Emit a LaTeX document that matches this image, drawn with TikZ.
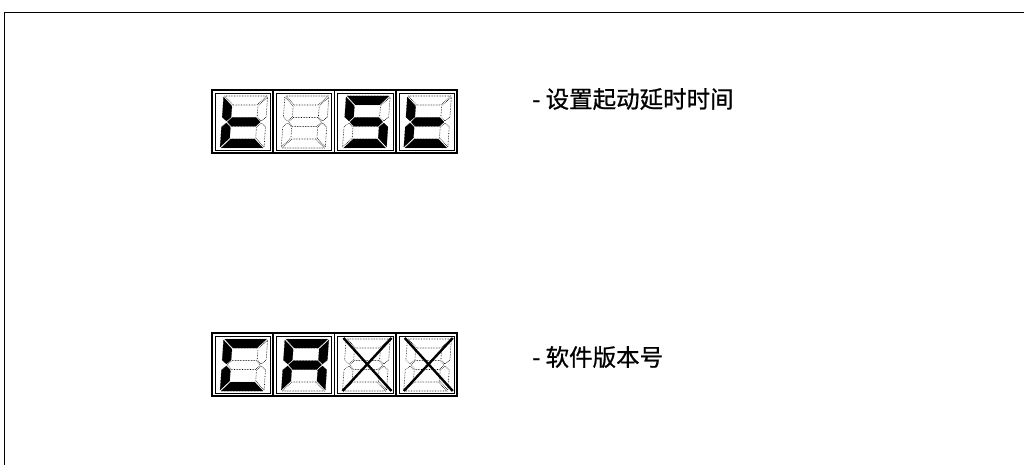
\documentclass[tikz,border=0pt]{standalone}
\usepackage{fontspec}
\newfontfamily\cjk{Noto Sans CJK SC}[FakeBold=0.8]
\tikzset{
  segon/.style={fill=black, draw=black, densely dotted, line width=0.5},
  segoff/.style={draw=black, densely dotted, line width=0.6},
  cellouter/.style={draw=black, line width=1.8},
  cellinner/.style={draw=black, line width=0.5},
  xline/.style={draw=black, line width=2.4},
  label/.style={anchor=west, inner sep=0pt, font=\cjk\fontsize{23.5}{28}\selectfont},
  frame/.style={draw=black, line width=1.3}
}
\newcommand{\SegA}[1]{\path[#1] (1,52) -- (43,52) -- (34,43) -- (10,43) -- cycle;}
\newcommand{\SegB}[1]{\path[#1] (44,51) -- (35,42) -- (35,31) -- (39.5,27) -- (44,31) -- cycle;}
\newcommand{\SegC}[1]{\path[#1] (44,1) -- (35,10) -- (35,21) -- (39.5,25) -- (44,21) -- cycle;}
\newcommand{\SegD}[1]{\path[#1] (1,0) -- (43,0) -- (34,9) -- (10,9) -- cycle;}
\newcommand{\SegE}[1]{\path[#1] (0,1) -- (9,10) -- (9,21) -- (4.5,25) -- (0,21) -- cycle;}
\newcommand{\SegF}[1]{\path[#1] (0,51) -- (9,42) -- (9,31) -- (4.5,27) -- (0,31) -- cycle;}
\newcommand{\SegG}[1]{\path[#1] (5.5,26) -- (10,30.5) -- (34,30.5) -- (38.5,26) -- (34,21.5) -- (10,21.5) -- cycle;}
\newcommand{\sevseg}[7]{\SegA{#1}\SegB{#2}\SegC{#3}\SegD{#4}\SegE{#5}\SegF{#6}\SegG{#7}}
\newcommand{\dispcell}[4]{%
  \begin{scope}[shift={(#1,#2)}]
    \path[cellouter] (0,0) rectangle (61.25,63);
    \path[cellinner] (3,3) rectangle (58.25,60);
    \begin{scope}[shift={(8,58)}, y=1pt, xslant=0.07]
      #3
    \end{scope}
    #4
  \end{scope}}
\newcommand{\crossmark}{\path[xline] (9,5) -- (57,58); \path[xline] (57,5) -- (8,58);}
\begin{document}
\begin{tikzpicture}[x=1pt,y=-1pt]
\useasboundingbox (0,0) rectangle (1024,465);
\path[frame] (4.5,465) -- (4.5,12.5) -- (1024,12.5);
% display 1: t e S t
\dispcell{212}{90}{\sevseg{segoff}{segoff}{segoff}{segon}{segon}{segon}{segon}}{}
\dispcell{273.25}{90}{\sevseg{segoff}{segoff}{segoff}{segoff}{segoff}{segoff}{segoff}}{}
\dispcell{334.5}{90}{\sevseg{segon}{segoff}{segon}{segon}{segoff}{segon}{segon}}{}
\dispcell{395.75}{90}{\sevseg{segoff}{segoff}{segoff}{segon}{segon}{segon}{segon}}{}
% display 2: C A X X
\dispcell{212}{333}{\sevseg{segon}{segoff}{segoff}{segon}{segon}{segon}{segoff}}{}
\dispcell{273.25}{333}{\sevseg{segon}{segon}{segon}{segoff}{segon}{segon}{segon}}{}
\dispcell{334.5}{333}{\sevseg{segoff}{segoff}{segoff}{segoff}{segoff}{segoff}{segoff}}{\crossmark}
\dispcell{395.75}{333}{\sevseg{segoff}{segoff}{segoff}{segoff}{segoff}{segoff}{segoff}}{\crossmark}
\node[label] (t1) at (532,99) {- 设置起动延时时间};
\node[label] (t2) at (532,357) {- 软件版本号};
\end{tikzpicture}
\end{document}
